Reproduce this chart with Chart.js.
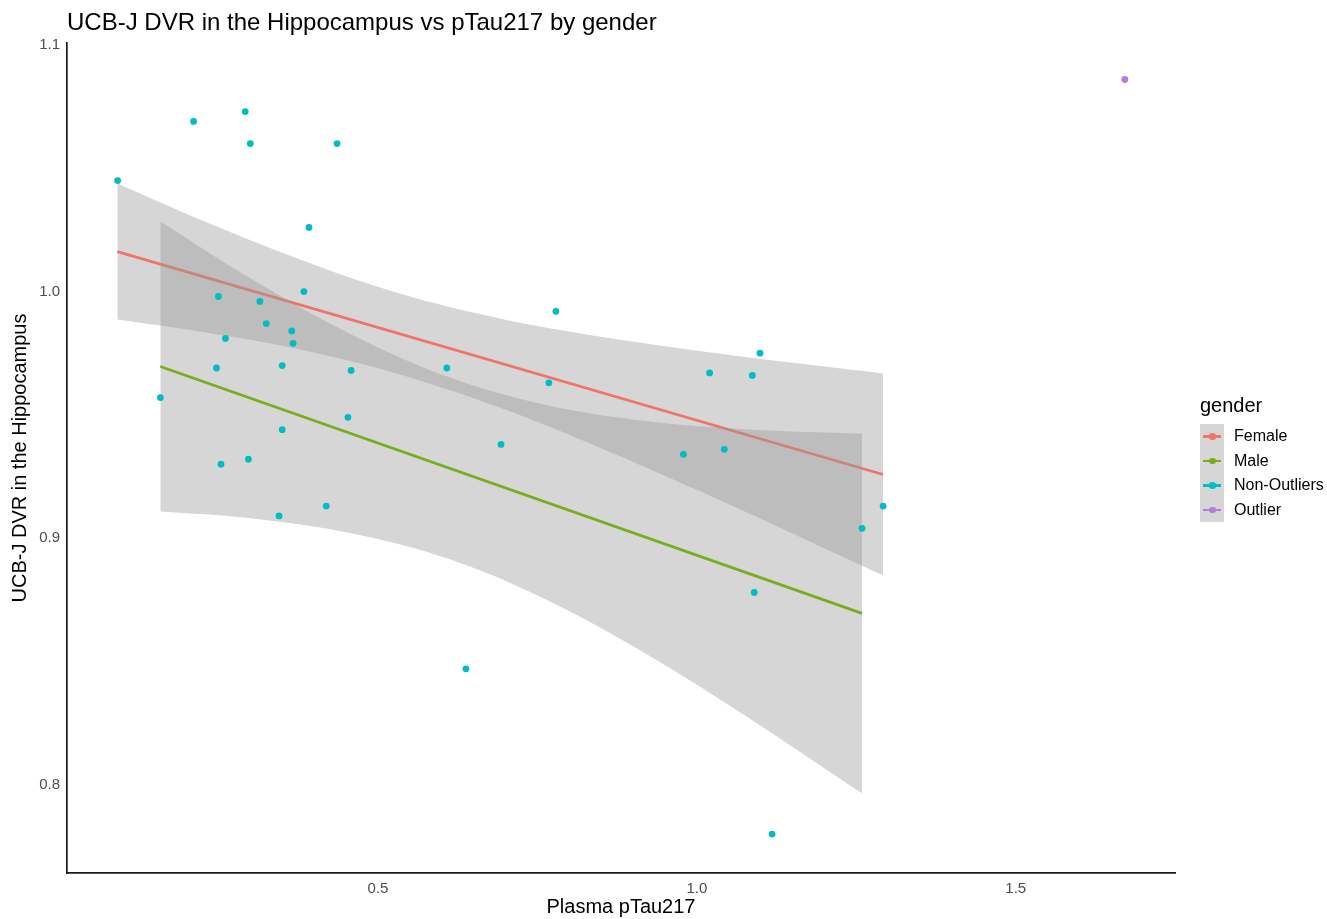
<!DOCTYPE html>
<html>
<head>
<meta charset="utf-8">
<script src="https://cdn.jsdelivr.net/npm/chart.js"></script>
<style>
  body { margin: 0; background: #fff; font-family: 'Liberation Sans', Arial, Helvetica, sans-serif; }
  #wrap { position: relative; width: 1327px; height: 919px; }
  #title { position: absolute; left: 67px; top: 8px; font-size: 24px; color: #000; white-space: nowrap; }
  #legend { position: absolute; left: 1200px; top: 394px; }
  #legend .ttl { font-size: 20px; color: #000; margin-bottom: 7px; }
  .row { position: relative; height: 24.5px; }
  .key { position: absolute; left: 0; top: 0; width: 24px; height: 24.5px; background: rgb(214,214,214); }
  .key .ln { position: absolute; left: 3px; top: 11px; width: 18px; height: 2.5px; }
  .key .dt { position: absolute; left: 9px; top: 9px; width: 6.5px; height: 6.5px; border-radius: 50%; }
  .lbl { position: absolute; left: 34px; top: 3px; font-size: 16px; color: #000; white-space: nowrap; }
</style>
</head>
<body>
<div id="wrap">
  <canvas id="mycanvas" width="1327" height="919"></canvas>
  <div id="title">UCB-J DVR in the Hippocampus vs pTau217 by gender</div>
  <div id="legend"></div>
</div>
<script>
// scatter points (Plasma pTau217, DVR)
var pointX = [0.092, 0.211, 0.292, 0.300, 0.436, 0.392, 0.159, 0.250, 0.261, 0.247, 0.254, 0.297, 0.315,
              0.325, 0.365, 0.367, 0.384, 0.350, 0.350, 0.345, 0.419, 0.453, 0.458, 0.608, 0.638, 0.693,
              0.768, 0.779, 0.979, 1.020, 1.043, 1.087, 1.099, 1.090, 1.118, 1.259, 1.292];
var pointY = [1.045, 1.069, 1.073, 1.060, 1.060, 1.026, 0.957, 0.998, 0.981, 0.969, 0.930, 0.932, 0.996,
              0.987, 0.984, 0.979, 1.000, 0.970, 0.944, 0.909, 0.913, 0.949, 0.968, 0.969, 0.847, 0.938,
              0.963, 0.992, 0.934, 0.967, 0.936, 0.966, 0.975, 0.878, 0.780, 0.904, 0.913];
var outlierX = [1.671];
var outlierY = [1.086];

// fitted lines
var femaleLineX = [0.0915, 1.2919];
var femaleLineY = [1.0162, 0.9258];
var maleLineX = [0.1589, 1.259];
var maleLineY = [0.9696, 0.8695];

// confidence bands
var femaleBandX = [0.0915, 0.221, 0.378, 0.534, 0.691, 0.847, 1.004, 1.160, 1.2919];
var femaleUpper = [1.0438, 1.0292, 1.0130, 0.9992, 0.9891, 0.9818, 0.9759, 0.9708, 0.9668];
var femaleLower = [0.9887, 0.9838, 0.9765, 0.9664, 0.9530, 0.9368, 0.9191, 0.9007, 0.8849];
var maleBandX = [0.1589, 0.300, 0.456, 0.613, 0.769, 0.926, 1.082, 1.259];
var maleUpper = [1.0284, 1.0054, 0.9829, 0.9651, 0.9537, 0.9473, 0.9441, 0.9424];
var maleLower = [0.9108, 0.9081, 0.9021, 0.8914, 0.8744, 0.8522, 0.8270, 0.7965];

var xTicks = [0.5, 1.0, 1.5];
var yTicks = [0.8, 0.9, 1.0, 1.1];

var legendNames = ['Female', 'Male', 'Non-Outliers', 'Outlier'];
var legendColors = ['#F07468', '#78AE1E', '#00BFC4', '#B67CDB'];

function pairs(xs, ys) {
	var out = [];
	for (var i in xs) out.push({x: xs[i], y: ys[i]});
	return out;
}

var bandFill = 'rgba(153,153,153,0.4)';
var none = 'rgba(0,0,0,0)';

var chartdata = {
	datasets: [
		{ label: 'points', data: pairs(pointX, pointY), backgroundColor: '#00BDC4', borderColor: '#00BDC4',
		  pointRadius: 3.4, borderWidth: 0, showLine: false, order: 0 },
		{ label: 'outlier', data: pairs(outlierX, outlierY), backgroundColor: '#B67CDB', borderColor: '#B67CDB',
		  pointRadius: 3.4, borderWidth: 0, showLine: false, order: 0 },
		{ label: 'male line', data: pairs(maleLineX, maleLineY), borderColor: '#78AE1E', borderWidth: 2.8,
		  pointRadius: 0, showLine: true, fill: false, order: 1 },
		{ label: 'male upper', data: pairs(maleBandX, maleUpper), borderColor: none, backgroundColor: bandFill,
		  borderWidth: 0, pointRadius: 0, showLine: true, tension: 0.35, fill: '+1', order: 2 },
		{ label: 'male lower', data: pairs(maleBandX, maleLower), borderColor: none,
		  borderWidth: 0, pointRadius: 0, showLine: true, tension: 0.35, fill: false, order: 2 },
		{ label: 'female line', data: pairs(femaleLineX, femaleLineY), borderColor: '#F07468', borderWidth: 2.8,
		  pointRadius: 0, showLine: true, fill: false, order: 3 },
		{ label: 'female upper', data: pairs(femaleBandX, femaleUpper), borderColor: none, backgroundColor: bandFill,
		  borderWidth: 0, pointRadius: 0, showLine: true, tension: 0.35, fill: '+1', order: 4 },
		{ label: 'female lower', data: pairs(femaleBandX, femaleLower), borderColor: none,
		  borderWidth: 0, pointRadius: 0, showLine: true, tension: 0.35, fill: false, order: 4 }
	]
};

var font = "'Liberation Sans', Arial, Helvetica, sans-serif";

var ctx = document.getElementById('mycanvas');
var chart = new Chart(ctx, {
	type: 'scatter',
	data: chartdata,
	options: {
		responsive: false,
		animation: false,
		events: [],
		layout: { padding: { top: 43, right: 152, bottom: 0, left: 0 } },
		plugins: { legend: { display: false }, tooltip: { enabled: false }, title: { display: false } },
		scales: {
			x: {
				type: 'linear', min: 0.0126, max: 1.7496,
				grid: { display: false, drawTicks: false },
				border: { display: true, color: '#1a1a1a', width: 1.7 },
				afterBuildTicks: function(s) { s.ticks = xTicks.map(function(v) { return {value: v}; }); },
				afterFit: function(s) { s.height = 46; },
				ticks: { color: '#4d4d4d', padding: 7, font: { family: font, size: 15 },
				         callback: function(v) { return v.toFixed(1); } },
				title: { display: true, text: 'Plasma pTau217', color: '#000', padding: { top: 0, bottom: 0 },
				         font: { family: font, size: 20 } }
			},
			y: {
				type: 'linear', min: 0.7642, max: 1.1008,
				grid: { display: false, drawTicks: false },
				border: { display: true, color: '#1a1a1a', width: 1.7 },
				afterBuildTicks: function(s) { s.ticks = yTicks.map(function(v) { return {value: v}; }); },
				afterFit: function(s) { s.width = 67; },
				ticks: { color: '#4d4d4d', padding: 7, font: { family: font, size: 15 },
				         callback: function(v) { return v.toFixed(1); } },
				title: { display: true, text: 'UCB-J DVR in the Hippocampus', color: '#000',
				         padding: { top: 8, bottom: 0 }, font: { family: font, size: 20 } }
			}
		}
	}
});

var lg = document.getElementById('legend');
var html = '<div class="ttl">gender</div>';
for (var i in legendNames) {
	html += '<div class="row"><div class="key"><div class="ln" style="background:' + legendColors[i] + '"></div>' +
		'<div class="dt" style="background:' + legendColors[i] + '"></div></div>' +
		'<div class="lbl">' + legendNames[i] + '</div></div>';
}
lg.innerHTML = html;
</script>
</body>
</html>
